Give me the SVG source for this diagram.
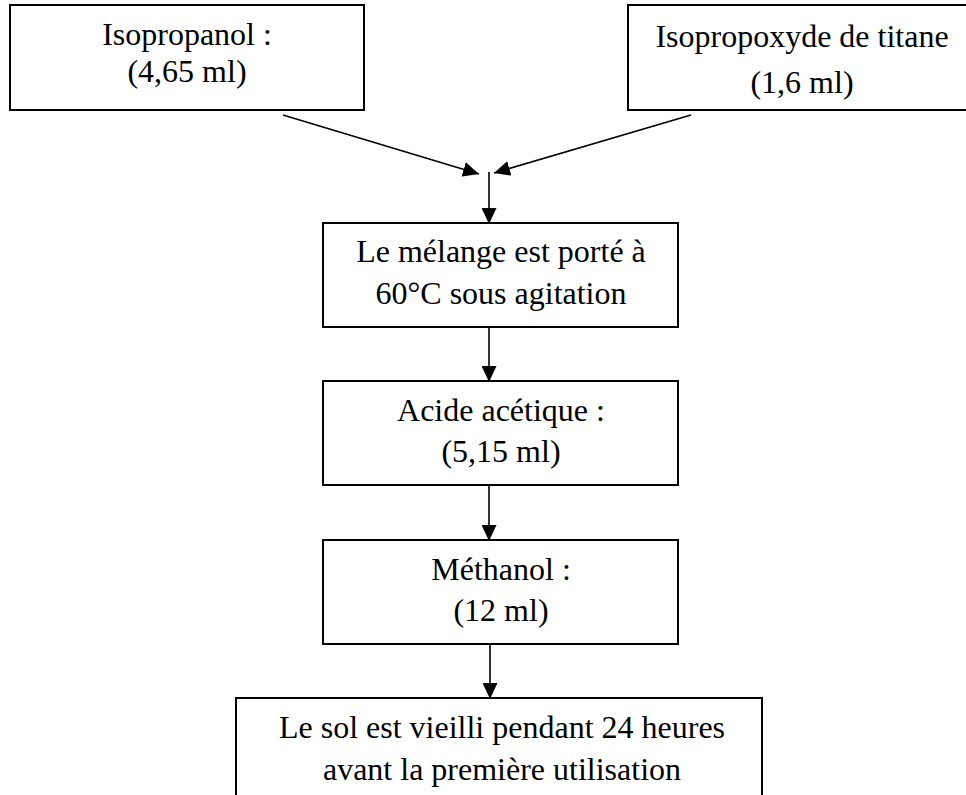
<svg xmlns="http://www.w3.org/2000/svg" width="966" height="795" viewBox="0 0 966 795">
<style>
.box{fill:#fff;stroke:#000;stroke-width:2}
.t{font-family:"Liberation Serif","Times New Roman",serif;font-size:32px;fill:#000;text-anchor:middle}
.c{stroke:#000;stroke-width:1.6;fill:none;marker-end:url(#ah)}
</style>
<defs>
<marker id="ah" viewBox="0 0 16 15" refX="16" refY="7.5" markerWidth="16" markerHeight="15" markerUnits="userSpaceOnUse" orient="auto">
<path d="M0,0 L16,7.5 L0,15 z" fill="#000"/>
</marker>
</defs>
<rect width="966" height="795" fill="#fff"/>
<g id="connectors">
<line class="c" x1="283" y1="115" x2="479" y2="174"/>
<line class="c" x1="691" y1="115" x2="494" y2="173"/>
<line class="c" x1="489" y1="172" x2="489" y2="224"/>
<line class="c" x1="489" y1="327" x2="489" y2="382"/>
<line class="c" x1="489" y1="485" x2="489" y2="541"/>
<line class="c" x1="490" y1="644" x2="490" y2="699"/>
</g>
<g id="isopropanol">
<rect class="box" x="10" y="5" width="354" height="105"/>
<text class="t" x="187" y="45">Isopropanol :</text>
<text class="t" x="187" y="82">(4,65 ml)</text>
</g>
<g id="isopropoxyde">
<rect class="box" x="628" y="5" width="350" height="105"/>
<text class="t" x="802" y="47">Isopropoxyde de titane</text>
<text class="t" x="802" y="93">(1,6 ml)</text>
</g>
<g id="melange">
<rect class="box" x="323" y="223" width="355" height="104"/>
<text class="t" x="501" y="262">Le mélange est porté à</text>
<text class="t" x="501" y="304">60°C sous agitation</text>
</g>
<g id="acide">
<rect class="box" x="323" y="381" width="355" height="104"/>
<text class="t" x="501" y="421">Acide acétique :</text>
<text class="t" x="501" y="462">(5,15 ml)</text>
</g>
<g id="methanol">
<rect class="box" x="323" y="540" width="355" height="104"/>
<text class="t" x="501" y="580">Méthanol :</text>
<text class="t" x="501" y="621">(12 ml)</text>
</g>
<g id="sol">
<rect class="box" x="236" y="698" width="526" height="110"/>
<text class="t" x="502" y="738">Le sol est vieilli pendant 24 heures</text>
<text class="t" x="502" y="780">avant la première utilisation</text>
</g>
</svg>
